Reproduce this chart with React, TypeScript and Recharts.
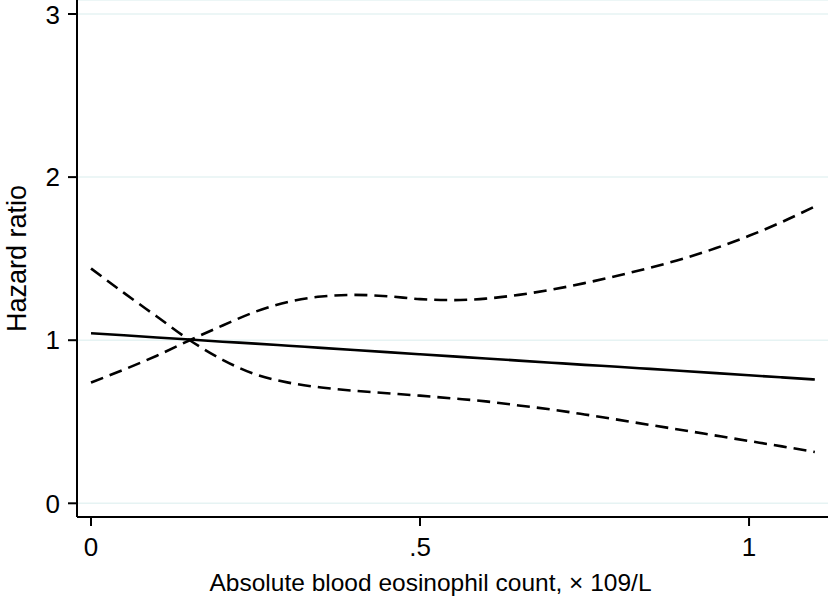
import { LineChart, Line, XAxis, YAxis, CartesianGrid } from 'recharts';

// eosinophil count (x 10^9/L)
const counts = [0, 0.05, 0.1, 0.15, 0.2, 0.25, 0.3, 0.35, 0.4, 0.45, 0.5, 0.55, 0.6, 0.65, 0.7, 0.75, 0.8, 0.85, 0.9, 0.95, 1.0, 1.05, 1.1];
const hazard = [1.043, 1.03, 1.017, 1.004, 0.991, 0.979, 0.966, 0.953, 0.94, 0.927, 0.914, 0.901, 0.888, 0.875, 0.862, 0.849, 0.837, 0.824, 0.811, 0.798, 0.785, 0.772, 0.759];
const ciFalling = [1.44, 1.29, 1.145, 1.0, 0.88, 0.79, 0.74, 0.71, 0.69, 0.675, 0.66, 0.643, 0.625, 0.6, 0.575, 0.545, 0.513, 0.48, 0.448, 0.415, 0.382, 0.349, 0.315];
const ciRising = [0.74, 0.82, 0.905, 1.0, 1.09, 1.175, 1.235, 1.268, 1.278, 1.27, 1.252, 1.246, 1.255, 1.278, 1.31, 1.35, 1.395, 1.445, 1.5, 1.565, 1.64, 1.725, 1.82];

const xTicks = [0, 0.5, 1];
const xTickLabels = ['0', '.5', '1'];
const yTicks = [0, 1, 2, 3];

const data = counts.map((c, i) => ({
  count: c,
  hr: hazard[i],
  lo: ciFalling[i],
  hi: ciRising[i],
}));

const font = '"Liberation Sans", Arial, Helvetica, sans-serif';
const tickStyle = { fill: '#000', fontSize: 26, fontFamily: font };

export default function App() {
  return (
    <div style={{ width: 829, height: 604 }}>
      <style>{'body{margin:0;background:#fff}'}</style>
      <LineChart width={829} height={604} data={data} margin={{ top: 0, right: 1, bottom: 0, left: 0 }}>
        <CartesianGrid vertical={false} stroke="#e6f3f3" strokeWidth={1.5} />
        <XAxis
          type="number"
          dataKey="count"
          domain={[-0.0213, 1.12]}
          ticks={xTicks}
          tickFormatter={(v: number) => xTickLabels[xTicks.indexOf(v)] ?? String(v)}
          allowDataOverflow
          height={87}
          tickSize={9}
          tickMargin={12}
          tick={tickStyle}
          stroke="#000"
          strokeWidth={2}
          tickLine={{ stroke: '#000', strokeWidth: 2 }}
          label={{
            value: 'Absolute blood eosinophil count, × 109/L',
            position: 'insideBottom',
            offset: 13,
            dx: -22,
            style: { fill: '#000', fontSize: 24.5, fontFamily: font },
          }}
        />
        <YAxis
          type="number"
          domain={[-0.084, 3.086]}
          ticks={yTicks}
          allowDataOverflow
          width={77}
          tickSize={9}
          tickMargin={8}
          tick={tickStyle}
          stroke="#000"
          strokeWidth={2}
          tickLine={{ stroke: '#000', strokeWidth: 2 }}
          label={{
            value: 'Hazard ratio',
            angle: -90,
            position: 'insideLeft',
            offset: 16,
            style: { fill: '#000', fontSize: 27, fontFamily: font, textAnchor: 'middle' },
          }}
        />
        <Line type="monotone" dataKey="hr" stroke="#000" strokeWidth={2.6} dot={false} isAnimationActive={false} />
        <Line type="monotone" dataKey="lo" stroke="#000" strokeWidth={2.6} strokeDasharray="13 7" dot={false} isAnimationActive={false} />
        <Line type="monotone" dataKey="hi" stroke="#000" strokeWidth={2.6} strokeDasharray="13 7" dot={false} isAnimationActive={false} />
      </LineChart>
    </div>
  );
}
